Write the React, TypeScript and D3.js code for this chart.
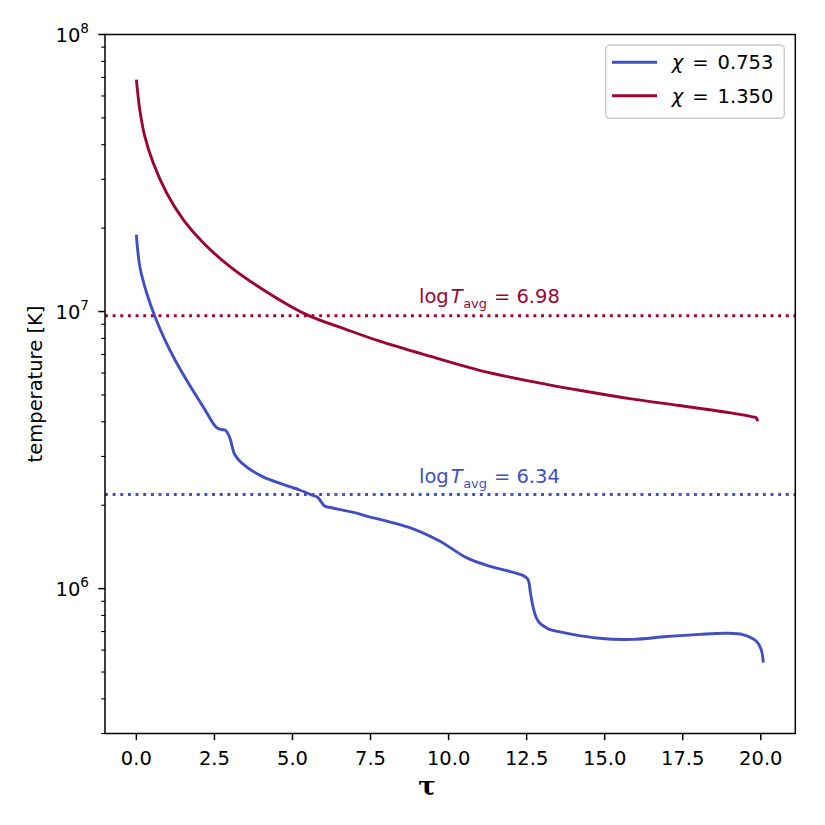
import React from 'react';
import * as d3 from 'd3';

// optical depth (tau) and log10 temperature
const tauBlue = [0.0, 0.11, 0.33, 0.59, 0.91, 1.23, 1.66, 2.19, 2.57, 2.73, 2.85, 2.99, 3.15, 3.37, 4.01, 4.86, 5.23, 5.66, 5.82, 6.03, 6.25, 6.99, 7.37, 8.86, 9.71, 10.57, 11.31, 12.38, 12.54, 12.62, 12.7, 12.81, 12.91, 13.13, 13.23, 14.83, 15.9, 16.97, 18.03, 18.88, 19.42, 19.85, 20.01, 20.08];
const logTBlue = [7.278, 7.163, 7.067, 6.983, 6.899, 6.827, 6.743, 6.647, 6.581, 6.574, 6.572, 6.545, 6.484, 6.454, 6.406, 6.37, 6.356, 6.336, 6.328, 6.298, 6.292, 6.274, 6.262, 6.216, 6.172, 6.112, 6.081, 6.048, 6.034, 5.986, 5.937, 5.895, 5.877, 5.859, 5.853, 5.821, 5.817, 5.827, 5.835, 5.839, 5.834, 5.811, 5.781, 5.733];

const tauRed = [0.0, 0.11, 0.27, 0.54, 0.97, 1.5, 2.14, 2.99, 4.06, 5.45, 6.73, 7.79, 9.39, 10.99, 12.59, 14.19, 15.79, 17.39, 18.99, 19.74, 19.85, 19.9];
const logTRed = [7.837, 7.728, 7.632, 7.536, 7.428, 7.332, 7.248, 7.163, 7.079, 6.989, 6.935, 6.893, 6.839, 6.788, 6.749, 6.716, 6.686, 6.661, 6.635, 6.62, 6.617, 6.604];

const avgLog = [6.34, 6.985];
const avgLabels = ['6.34', '6.98'];
const chiLabels = ['0.753', '1.350'];
const colors = ['#4150c1', '#9b0533'];
const xTicks = [0, 2.5, 5, 7.5, 10, 12.5, 15, 17.5, 20];
const yMajor = [6, 7, 8];

const W = 825;
const H = 825;
const m = { left: 105, right: 795.3, top: 34.5, bottom: 733.5 };
const FONT = "'DejaVu Sans', sans-serif";
const FS = 19.5;

export default function App() {
  const x = d3.scaleLinear().domain([-1.005, 21.105]).range([m.left, m.right]);
  const y = d3.scaleLog().domain([3e5, 1e8]).range([m.bottom, m.top]);

  const line = d3.line<[number, number]>()
    .x(d => x(d[0]))
    .y(d => y(Math.pow(10, d[1])))
    .curve(d3.curveCatmullRom.alpha(0.5));

  const series = [
    tauBlue.map((t, i) => [t, logTBlue[i]] as [number, number]),
    tauRed.map((t, i) => [t, logTRed[i]] as [number, number]),
  ];

  // minor ticks for the log axis
  const minor: number[] = [];
  for (let e = 5; e <= 7; e++) {
    for (let k = 2; k <= 9; k++) {
      const v = k * Math.pow(10, e);
      if (v >= 3e5 && v <= 1e8) minor.push(v);
    }
  }

  const labelY = [483.3, 303.3];

  return (
    <svg width={W} height={H} style={{ position: 'absolute', left: 0, top: 0, background: '#fff' }}
      fontFamily={FONT}>
      <rect x={0} y={0} width={W} height={H} fill="#fff" />

      {/* average temperature lines */}
      {avgLog.map((v, i) => (
        <line key={'avg' + i} x1={m.left} x2={m.right} y1={y(Math.pow(10, v))} y2={y(Math.pow(10, v))}
          stroke={colors[i]} strokeWidth={2.9} strokeDasharray="2.9 4.75" />
      ))}

      {series.map((s, i) => (
        <path key={'s' + i} d={line(s) || ''} fill="none" stroke={colors[i]} strokeWidth={2.9}
          strokeLinecap="butt" strokeLinejoin="round" />
      ))}

      {avgLabels.map((lab, i) => (
        <text key={'lab' + i} x={419} y={labelY[i]} fontSize={FS} fill={colors[i]}>
          <tspan>log</tspan>
          <tspan dx={2} fontStyle="italic">T</tspan>
          <tspan fontSize={13} dy={4.5} dx={0.5}>avg</tspan>
          <tspan dy={-4.5} dx={7}>=</tspan>
          <tspan dx={6}>{lab}</tspan>
        </text>
      ))}

      {/* axes frame */}
      <rect x={m.left} y={m.top} width={m.right - m.left} height={m.bottom - m.top}
        fill="none" stroke="#000" strokeWidth={1.5} />

      {/* x ticks */}
      {xTicks.map(t => (
        <g key={'xt' + t}>
          <line x1={x(t)} x2={x(t)} y1={m.bottom} y2={m.bottom + 6.7} stroke="#000" strokeWidth={1.5} />
          <text x={x(t)} y={765} fontSize={FS} textAnchor="middle">{t.toFixed(1)}</text>
        </g>
      ))}

      {/* y ticks */}
      {yMajor.map(e => (
        <g key={'yt' + e}>
          <line x1={m.left - 6.7} x2={m.left} y1={y(Math.pow(10, e))} y2={y(Math.pow(10, e))} stroke="#000" strokeWidth={1.5} />
          <text x={89} y={y(Math.pow(10, e)) + 7.3} fontSize={FS} textAnchor="end">
            <tspan>10</tspan>
            <tspan fontSize={13.6} dy={-9}>{e}</tspan>
          </text>
        </g>
      ))}
      {minor.map(v => (
        <line key={'mt' + v} x1={m.left - 3.8} x2={m.left} y1={y(v)} y2={y(v)} stroke="#000" strokeWidth={1.1} />
      ))}

      <text transform={`translate(41.5,${(m.top + m.bottom) / 2}) rotate(-90)`} fontSize={FS}
        textAnchor="middle">temperature [K]</text>
      <text x={427} y={795} fontSize={26} fontWeight="bold" fontFamily="'DejaVu Serif', serif"
        textAnchor="middle">τ</text>

      {/* legend */}
      <rect x={605.7} y={45} width={178.6} height={73.3} rx={4} fill="#fff" fillOpacity={0.8}
        stroke="#cccccc" strokeWidth={1.5} />
      {chiLabels.map((lab, i) => (
        <g key={'lg' + i}>
          <line x1={612} x2={657} y1={62.3 + i * 33.4} y2={62.3 + i * 33.4} stroke={colors[i]} strokeWidth={2.9} />
          <text x={671.7} y={69.3 + i * 33.4} fontSize={FS}>
            <tspan fontStyle="italic">χ</tspan>
            <tspan dx={9}>=</tspan>
            <tspan dx={9}>{lab}</tspan>
          </text>
        </g>
      ))}
    </svg>
  );
}
